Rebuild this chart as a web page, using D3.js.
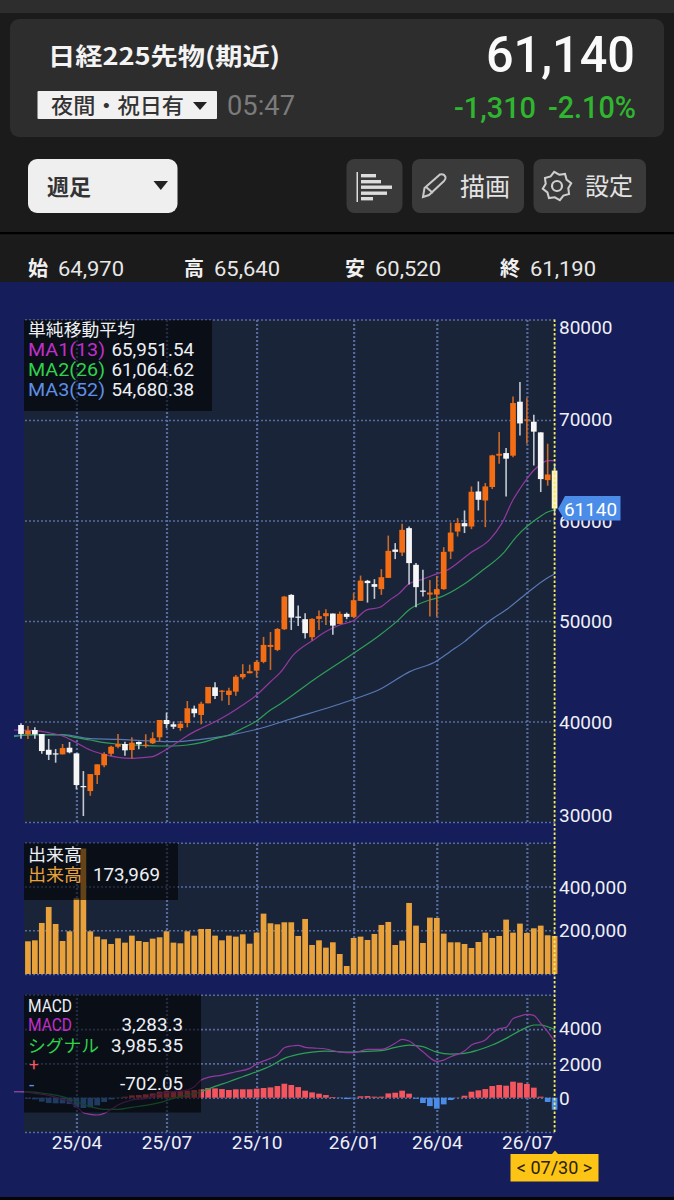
<!DOCTYPE html>
<html><head><meta charset="utf-8">
<script src="https://cdnjs.cloudflare.com/ajax/libs/d3/7.8.5/d3.min.js"></script>
<style>html,body{margin:0;padding:0;background:#1b1b1b;overflow:hidden}svg{display:block}</style>
</head><body><div id="chart"></div>
<script>
// ---- weekly candles (OHLC) ----
const opens=[39650,38730,39150,38750,37190,36830,36730,37390,36830,33580,
33080,34670,35640,36790,37490,37760,37160,37960,37590,37830,
38430,40150,39720,39350,39850,41280,40650,41810,43400,42970,
42640,42970,44400,44800,45060,45930,47420,47120,49180,52600,
50440,50180,48390,50210,50480,50740,49710,50710,50410,52000,
54000,53670,53170,54290,57110,56810,59240,55590,53030,52630,
52630,53170,56910,58900,59740,59400,62890,61990,63330,66450,
66710,66450,71820,69960,69830,68770,64020,64970];
const highs=[39820,39550,39420,38750,38260,37260,37760,37960,36830,35070,
34770,35740,36930,37590,38750,37990,38430,38000,38730,38930,
40150,40880,39980,40050,42040,41580,41970,43440,43900,43140,
43370,44630,45700,45660,46130,48420,48910,49300,52500,52670,
51530,50780,50280,51040,51180,50740,50940,50840,52770,54520,
54090,54160,55160,58500,57750,59670,59400,55760,55090,54090,
54490,57350,59800,60240,61000,63390,63890,63730,66540,68800,
67210,72350,73780,72190,70530,68770,67640,65640];
const lows=[38290,38260,38290,36790,36170,35900,36730,36830,33250,30590,
32610,33780,35440,36560,37330,36590,36330,37230,37390,37760,
38030,39350,39250,39080,39420,40420,39720,41810,42240,42070,
41640,42570,44200,44800,44400,45800,45130,47000,49100,49110,
49510,48250,48050,49110,49610,48620,49680,50180,50280,52000,
51830,52200,52600,54290,56160,56480,53630,51380,52430,50440,
50440,53100,56160,58410,58750,59140,61000,59340,63130,65650,
62390,66300,68470,67640,65480,62830,63460,60520];
const closes=[38760,39080,38730,37060,36690,36730,37360,36930,33680,33480,
34770,35740,36760,37490,37760,37130,37890,37730,37690,38330,
40150,39750,39480,39780,41320,40820,41770,43440,42540,43070,
43070,44460,44730,45000,45930,47620,47620,49210,52430,50340,
50340,48790,50210,50480,50780,49540,50710,50410,52070,54020,
53770,53400,54360,56980,56880,59070,55760,53370,52930,52830,
53170,56880,58800,59740,59420,62860,62060,63390,66480,66640,
66150,71690,69660,70060,68840,64120,64580,61190];
// ---- moving averages: [week index, value] ----
const ma1=[[-1,39150],[0,39150],[2,39085],[4,38885],[6,38555],[8,37890],[10,37160],[12,36730],[14,36430],[16,36330],[18,36430],[19,36500],[20,36830],[21,37230],[22,37660],[24,38590],[26,39320],[28,39980],[30,40750],[32,41640],[34,42640],[36,43960],[37.4,44860],[39.3,46620],[42.2,48120],[44,48945],[46,49600],[48,50040],[49.9,51105],[51.8,51370],[53.2,52100],[54.5,52700],[56,53695],[58,54160],[60,54690],[61.4,55020],[64.8,56750],[67.7,58150],[69.4,59740],[71,62060],[72,63160],[73,64150],[74,65000],[75,65600],[76,65950],[77,65951]];
const ma2=[[-1,38500],[2,38685],[6,38655],[8,38390],[10,38160],[12,37890],[14,37760],[16,37660],[18,37590],[20,37560],[22,37560],[24,37660],[26,37890],[28,38290],[30,38655],[32,39320],[34,40050],[36,41145],[37.4,41745],[42.2,44130],[48,46790],[51.8,48615],[54.2,49940],[56.1,51175],[59,52100],[60.5,52370],[63.8,53595],[66.7,55090],[69.6,56750],[71.5,58405],[73,59400],[74.4,60140],[76,60850],[77,61065]];
const ma3=[[-1,38600],[0,38655],[6,38690],[10,38290],[14,38225],[18,38090],[22,37990],[26,38225],[30,38625],[34,39220],[38.8,40220],[48,42210],[51.8,43210],[56.1,44960],[60,46025],[61.9,46950],[64,47950],[66,49110],[68,50210],[70,51110],[73,52770],[76,54300],[77,54680]];
// ---- volume ----
const volumes=[150000,149500,154000,233400,306600,228800,151000,195300,346300,573600,
195300,170900,158700,137300,163200,143400,175400,151000,146400,161700,
167800,195300,143400,140300,195300,175400,205900,205900,175400,154000,
175400,170900,181500,138800,189100,276100,231900,227300,236500,236500,
173900,251700,132700,154000,120500,145000,91500,36600,164800,170900,
155600,183100,224300,238000,132700,152600,324900,221200,141900,257800,
256300,184600,144900,144900,137300,119000,146400,189100,164800,173900,
248700,189100,230400,187600,209000,221200,177000,173969];
// ---- MACD ----
const macdHist=[-20,-60,-100,-230,-310,-330,-330,-370,-560,-600,
-560,-450,-250,-100,-20,60,135,155,195,250,
350,390,370,390,410,450,490,565,545,505,
450,490,490,490,525,565,600,680,815,740,
620,410,310,235,155,40,-20,-80,-40,80,
95,60,60,250,290,410,235,-60,-310,-490,
-640,-390,-135,10,115,350,430,505,680,740,
700,935,875,800,585,60,-250,-702];
const macdLine=[[-1,350],[0,350],[2,250],[4,135],[6,-100],[7,-230],[8,-525],[9,-875],[10,-970],[11,-1010],[12,-915],[13,-680],[14,-430],[16,-135],[18,-40],[20,215],[22,350],[24,450],[25,640],[26,1030],[27,1185],[29,1320],[31,1515],[33,1710],[34,1965],[36,2295],[37,2490],[38,2915],[39,3015],[40,3050],[41,2935],[42,2900],[44,2840],[46,2660],[48,2625],[50,2820],[52,2820],[54,3170],[55,3400],[56,3305],[58,2680],[60,2120],[61,2195],[62,2390],[64,2720],[65,3070],[67,3360],[68,3750],[69,4025],[70,4100],[71,4610],[72,4760],[73,4860],[74,4800],[75,4335],[76,3850],[77,3283]];
const signalLine=[[-1,350],[0,350],[4,215],[6,60],[8,-230],[10,-525],[12,-680],[14,-680],[16,-565],[18,-450],[20,-290],[22,-40],[24,155],[26,350],[28,660],[30,930],[32,1225],[34,1515],[36,1845],[38,2295],[40,2525],[42,2660],[44,2720],[46,2680],[48,2660],[50,2700],[52,2740],[54,2935],[56,3070],[58,2975],[60,2660],[62,2545],[64,2585],[66,2780],[68,3070],[70,3460],[72,3910],[73,4100],[74,4240],[75,4240],[76,4140],[77,3985]];
// ---- axes ----
const xTickIndex=[8,21,34,48,60,73];
const xTickLabels=["25/04","25/07","25/10","26/01","26/04","26/07"];
const priceTicks=[30000,40000,50000,60000,70000,80000];
const volumeTicks=[0,200000,400000,600000];
const macdTicks=[-2000,0,2000,4000,6000];
const lastPrice=61140, lastDate="< 07/30 >";

const W=674,H=1200,L=24,R=555;
const FONT_JP='"Noto Sans CJK JP",sans-serif', FONT='Roboto,sans-serif';
const C={orange:'#f26d14',white:'#f6f6f6',vol:'#e9a23b',grid:'#566a9c',plot:'#192438',navy:'#151d5a',mag:'#93389f',grn:'#2f9f56',blu:'#5877b4',red:'#f4555f',blue:'#4a8ce8'};

const svg=d3.select('#chart').append('svg').attr('width',W).attr('height',H).attr('viewBox',[0,0,W,H]);
function T(g,x,y,s,o={}){
  const e=g.append('text').attr('x',x).attr('y',y).text(s)
    .attr('font-family',o.font||FONT).attr('font-size',o.size||18).attr('fill',o.fill||'#eef0f6')
    .attr('font-weight',o.weight||400).attr('text-anchor',o.anchor||'start');
  if(o.len){e.attr('textLength',o.len).attr('lengthAdjust','spacingAndGlyphs');}
  return e;
}
function R_(g,x,y,w,h,fill,r=0){return g.append('rect').attr('x',x).attr('y',y).attr('width',w).attr('height',h).attr('fill',fill).attr('rx',r).attr('ry',r);}

// ---------- app chrome ----------
const hdr=svg.append('g');
R_(hdr,0,0,W,H,'#1b1b1b');
R_(hdr,0,0,W,13,'#2d2d2d');
R_(hdr,10,19,654,118,'#2d2d2d',9);
T(hdr,48,65,'日経225先物(期近)',{font:FONT_JP,size:24,weight:700,fill:'#f4f4f4',len:232});
T(hdr,486,72,'61,140',{size:50,weight:500,fill:'#fafafa',len:149});
R_(hdr,37.5,91,179.5,28,'#f1f1f1',1);
T(hdr,51,113,'夜間・祝日有',{font:FONT_JP,size:21,weight:500,fill:'#333',len:133});
hdr.append('path').attr('d','M193,102 h14 l-7,8 z').attr('fill','#222');
T(hdr,227,115,'05:47',{size:27,fill:'#7b7b7b',len:68});
T(hdr,454,118,'-1,310',{size:30,weight:500,fill:'#2fb52f',len:82});
T(hdr,548,118,'-2.10%',{size:31,weight:500,fill:'#2fb52f',len:88});
R_(hdr,28,159,149.5,54,'#efefef',9);
T(hdr,47,195,'週足',{font:FONT_JP,size:22,weight:700,fill:'#333'});
hdr.append('path').attr('d','M153.5,181 h14.5 l-7.2,9 z').attr('fill','#222');
R_(hdr,346.5,159,56,54,'#3a3a3a',8);
R_(hdr,412,159,112,54,'#3a3a3a',8);
R_(hdr,533.5,159,112.5,54,'#3a3a3a',8);
// list icon
R_(hdr,356.5,172,1.5,30,'#ddd');
[[174,376],[180,381],[185.5,392],[191.5,387],[197,373]].forEach(d=>R_(hdr,361,d[0],d[1]-361,3.4,'#ddd'));
// pencil icon
hdr.append('path').attr('d','M423,197 L424.5,188 L440,174.5 Q444,173.5 445.5,177 Q446,179 444,181 L429,195 Z M426,187 L433,193')
  .attr('fill','none').attr('stroke','#c9c9c9').attr('stroke-width',2);
T(hdr,460,196,'描画',{font:FONT_JP,size:25,fill:'#e4e4e4'});
// gear icon
const gearPts=d3.range(16).map(i=>{const a=i/16*2*Math.PI+Math.PI/16,r=i%2?14.5:11.5;return [557+r*Math.sin(a),186-r*Math.cos(a)];});
hdr.append('path').attr('d',d3.line().curve(d3.curveLinearClosed)(gearPts)).attr('fill','none').attr('stroke','#cfcfcf').attr('stroke-width',2);
hdr.append('circle').attr('cx',557).attr('cy',186).attr('r',5).attr('fill','none').attr('stroke','#cfcfcf').attr('stroke-width',2.2);
T(hdr,585,195,'設定',{font:FONT_JP,size:24,fill:'#e4e4e4'});
R_(hdr,0,232,W,2.2,'#000');
[[28,'始',58,'64,970'],[184,'高',214,'65,640'],[345,'安',375,'60,520'],[500,'終',530,'61,190']].forEach(d=>{
  T(hdr,d[0],276,d[1],{font:FONT_JP,size:20,weight:700,fill:'#f0f0f0'});
  T(hdr,d[2],276,d[3],{size:20,fill:'#e8e8e8',len:66});
});

// ---------- chart background ----------
R_(svg,0,282,W,915,C.navy);
R_(svg,0,1197,W,3,'#050505');
const panels=[[319.5,822],[842.8,974],[994.8,1132]];
panels.forEach(p=>R_(svg,L,p[0],R-L,p[1]-p[0],C.plot));

// ---------- scales ----------
const x=d3.scaleLinear().domain([0,opens.length-1]).range([21,554.6]);
const bw=5.7;
const yP=d3.scaleLinear().domain([30000,80000]).range([822,319.5]);
const yV=d3.scaleLinear().domain([0,600000]).range([974,842.8]);
const yM=d3.scaleLinear().domain([-2000,6000]).range([1132,994.8]);

// ---------- grid + axes ----------
function styleGrid(g){
  g.select('.domain').remove();
  g.selectAll('.tick line').attr('stroke',C.grid).attr('stroke-width',1.6).attr('stroke-dasharray','2 2');
}
function yAxis(scale,ticks,fmt,nudge){
  const g=svg.append('g').attr('transform',`translate(${R},0)`)
    .call(d3.axisRight(scale).tickValues(ticks).tickSize(-(R-L)).tickFormat(fmt));
  styleGrid(g);
  g.selectAll('.tick text').attr('x',4).attr('dy','0.35em')
    .attr('transform',d=>`translate(0,${nudge(d)})`)
    .attr('font-family',FONT).attr('font-size',19).attr('fill','#eef0f6');
  return g;
}
panels.forEach(p=>{
  const g=svg.append('g').attr('transform',`translate(0,${p[1]})`)
    .call(d3.axisBottom(x).tickValues(xTickIndex).tickSize(-(p[1]-p[0])).tickFormat(''));
  styleGrid(g);g.selectAll('.tick line').attr('stroke-width',2.2);
  g.selectAll('.tick text').remove();
});
svg.append('g').attr('transform','translate(0,1149)')
  .call(d3.axisBottom(x).tickValues(xTickIndex).tickSize(0).tickPadding(0).tickFormat((d,i)=>xTickLabels[i]))
  .call(g=>g.select('.domain').remove())
  .call(g=>g.selectAll('text').attr('y',0).attr('dy',0).attr('font-family',FONT).attr('font-size',19).attr('fill','#eef0f6'));
yAxis(yP,priceTicks,d=>String(d),d=>d===80000?7:d===30000?-7:d===70000?-1:0);
yAxis(yV,volumeTicks,d=>(d===200000||d===400000)?d3.format(',')(d):'',d=>0);
yAxis(yM,macdTicks,d=>(d>=0&&d<=4000)?String(d):'',d=>d===4000?-1:0);

// ---------- moving averages ----------
const ln=(sc)=>d3.line().x(d=>x(d[0])).y(d=>sc(d[1])).curve(d3.curveMonotoneX);
const lineG=svg.append('g').attr('fill','none').attr('stroke-width',1.2);
lineG.append('path').attr('d',ln(yP)(ma3)).attr('stroke',C.blu);
lineG.append('path').attr('d',ln(yP)(ma2)).attr('stroke',C.grn);
lineG.append('path').attr('d',ln(yP)(ma1)).attr('stroke',C.mag);

// ---------- candles ----------
const idx=d3.range(opens.length);
const up=i=>closes[i]>opens[i];
const lastI=opens.length-1;
const cG=svg.append('g');
cG.selectAll('line').data(idx).join('line')
  .attr('x1',i=>x(i)).attr('x2',i=>x(i)).attr('y1',i=>yP(highs[i])).attr('y2',i=>yP(lows[i]))
  .attr('stroke',i=>up(i)?'#c9692a':'#c3c9d2').attr('stroke-width',1.6);
cG.selectAll('rect').data(idx).join('rect')
  .attr('x',i=>x(i)-bw/2).attr('width',bw)
  .attr('y',i=>yP(Math.max(opens[i],closes[i])))
  .attr('height',i=>Math.max(1.2,Math.abs(yP(opens[i])-yP(closes[i]))))
  .attr('fill',i=>i===lastI?'#fbf3c6':up(i)?C.orange:C.white);

// ---------- volume ----------
svg.append('clipPath').attr('id','plotclip').append('rect').attr('x',L).attr('y',0).attr('width',W-L).attr('height',H);
svg.append('g').attr('clip-path','url(#plotclip)').selectAll('rect').data(idx).join('rect')
  .attr('x',i=>x(i)-bw/2).attr('width',bw)
  .attr('y',i=>yV(volumes[i])).attr('height',i=>yV(0)-yV(volumes[i]))
  .attr('fill',C.vol);

// ---------- MACD ----------
svg.append('g').attr('clip-path','url(#plotclip)').selectAll('rect').data(idx).join('rect')
  .attr('x',i=>x(i)-bw/2).attr('width',bw)
  .attr('y',i=>yM(Math.max(0,macdHist[i])))
  .attr('height',i=>Math.abs(yM(macdHist[i])-yM(0)))
  .attr('fill',i=>macdHist[i]>=0?C.red:C.blue);
const mG=svg.append('g').attr('fill','none').attr('stroke-width',1.2);
mG.append('path').attr('d',ln(yM)(signalLine)).attr('stroke',C.grn);
mG.append('path').attr('d',ln(yM)(macdLine)).attr('stroke',C.mag);

// ---------- legends ----------
const box='rgba(0,0,0,0.58)';
R_(svg,24,320,188,91,box);
R_(svg,24,843,154,57,box);
R_(svg,24,994.5,177,118,box);
const lg=svg.append('g');
const jp={font:FONT_JP,size:17.5};
T(lg,28,336,'単純移動平均',{...jp,len:107});
T(lg,28,356,'MA1(13)',{size:18.5,fill:'#c22ecb',len:77});
T(lg,194,356,'65,951.54',{size:18.8,anchor:'end'});
T(lg,28,376,'MA2(26)',{size:18.5,fill:'#2fd24a',len:77});
T(lg,194,376,'61,064.62',{size:18.8,anchor:'end'});
T(lg,28,396,'MA3(52)',{size:18.5,fill:'#5f8ee6',len:77});
T(lg,194,396,'54,680.38',{size:18.8,anchor:'end'});
T(lg,28,861,'出来高',{...jp,len:54});
T(lg,28,881,'出来高',{...jp,fill:'#e9a23b',len:54});
T(lg,160,881,'173,969',{size:18.8,anchor:'end'});
T(lg,28,1012,'MACD',{size:18.5,len:44});
T(lg,28,1031,'MACD',{size:18.5,fill:'#c22ecb',len:44});
T(lg,183,1031,'3,283.3',{size:18.8,anchor:'end'});
T(lg,28,1052,'シグナル',{font:FONT_JP,size:17.5,fill:'#2fd24a',len:71});
T(lg,183,1052,'3,985.35',{size:18.8,anchor:'end'});
T(lg,29,1070,'+',{size:17,fill:'#f4555f'});
T(lg,29,1091,'-',{size:19,fill:'#5f8ee6'});
T(lg,183,1090,'-702.05',{size:18.8,anchor:'end'});

// ---------- crosshair, tags ----------
svg.append('line').attr('x1',x(lastI)).attr('x2',x(lastI)).attr('y1',319.5).attr('y2',1132)
  .attr('stroke','#f5ee5a').attr('stroke-width',1.8).attr('stroke-dasharray','2.5 2');
const ty=yP(lastPrice);
const tagG=svg.append('g');
tagG.append('path').attr('d',`M558,${ty} L565,${ty-13} H620.5 V${ty+11.5} H565 Z`).attr('fill',C.blue);
T(tagG,564,ty+6.5,String(lastPrice),{size:18,fill:'#fff',len:53});
const dG=svg.append('g');
dG.append('path').attr('d','M552,1154 L555,1150.5 L558,1154 Z').attr('fill','#fcc414');
R_(dG,510.5,1154,88,27.5,'#fcc414');
T(dG,554.5,1174,lastDate,{size:18,fill:'#2a2208',anchor:'middle'});
</script></body></html>
